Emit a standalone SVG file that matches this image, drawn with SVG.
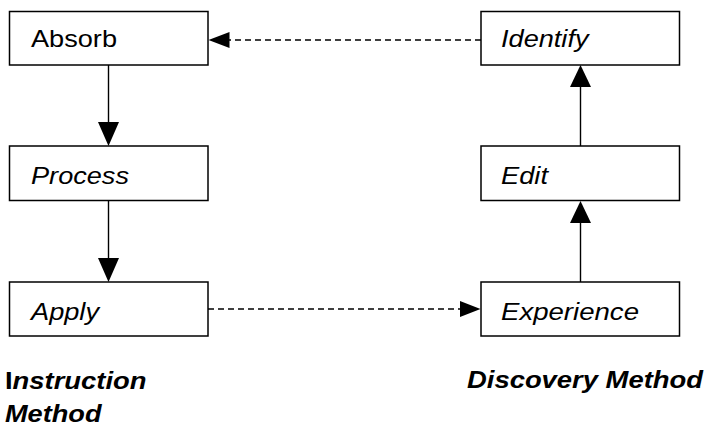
<svg xmlns="http://www.w3.org/2000/svg" width="707" height="425" viewBox="0 0 707 425">
  <style>
    .box { fill: #ffffff; stroke: #000000; stroke-width: 1.5; }
    .lbl { font-family: "Liberation Sans", Arial, sans-serif; font-size: 24px; fill: #000000; }
    .it { font-style: italic; }
    .cap { font-family: "Liberation Sans", Arial, sans-serif; font-size: 23px; font-weight: bold; font-style: italic; fill: #000000; }
    .solid { stroke: #000000; stroke-width: 1.4; fill: none; }
    .dash { stroke: #000000; stroke-width: 1.4; fill: none; stroke-dasharray: 6 4; }
    .head { fill: #000000; }
  </style>

  <!-- connectors -->
  <g id="connectors">
    <!-- Absorb -> Process -->
    <line class="solid" x1="108.5" y1="65" x2="108.5" y2="124"/>
    <polygon class="head" points="98,122 119,122 108.5,146"/>
    <!-- Process -> Apply -->
    <line class="solid" x1="108.5" y1="201" x2="108.5" y2="260"/>
    <polygon class="head" points="98,258 119,258 108.5,282"/>
    <!-- Experience -> Edit -->
    <line class="solid" x1="580.5" y1="282" x2="580.5" y2="222"/>
    <polygon class="head" points="570,223 591,223 580.5,201"/>
    <!-- Edit -> Identify -->
    <line class="solid" x1="580.5" y1="146" x2="580.5" y2="86"/>
    <polygon class="head" points="570,87 591,87 580.5,65"/>
    <!-- Identify -> Absorb (dashed) -->
    <line class="dash" x1="481" y1="40" x2="229" y2="40"/>
    <polygon class="head" points="229.5,32 229.5,48 208.5,40"/>
    <!-- Apply -> Experience (dashed) -->
    <line class="dash" x1="208" y1="309" x2="460" y2="309"/>
    <polygon class="head" points="460,301 460,317 480.5,309"/>
  </g>

  <!-- nodes -->
  <g id="absorb">
    <rect class="box" x="9.5" y="11.5" width="198.5" height="53.5"/>
    <text class="lbl" x="31" y="46.5" textLength="86" lengthAdjust="spacingAndGlyphs">Absorb</text>
  </g>
  <g id="process">
    <rect class="box" x="9.5" y="146" width="198.5" height="54.5"/>
    <text class="lbl it" x="31" y="184" textLength="98" lengthAdjust="spacingAndGlyphs">Process</text>
  </g>
  <g id="apply">
    <rect class="box" x="9.5" y="282" width="198.5" height="54"/>
    <text class="lbl it" x="31" y="319.5" textLength="68" lengthAdjust="spacingAndGlyphs">Apply</text>
  </g>
  <g id="identify">
    <rect class="box" x="481" y="11.5" width="198.5" height="53.5"/>
    <text class="lbl it" x="501" y="46.5" textLength="87.5" lengthAdjust="spacingAndGlyphs">Identify</text>
  </g>
  <g id="edit">
    <rect class="box" x="481" y="146" width="198.5" height="54.5"/>
    <text class="lbl it" x="501" y="184" textLength="47" lengthAdjust="spacingAndGlyphs">Edit</text>
  </g>
  <g id="experience">
    <rect class="box" x="481" y="282" width="198.5" height="54"/>
    <text class="lbl it" x="501" y="319.5" textLength="138" lengthAdjust="spacingAndGlyphs">Experience</text>
  </g>

  <!-- captions -->
  <g id="instruction-method">
    <text class="cap" x="5" y="389" textLength="141.5" lengthAdjust="spacingAndGlyphs"><tspan font-style="normal">I</tspan>nstruction</text>
    <text class="cap" x="5" y="421.5" textLength="96.5" lengthAdjust="spacingAndGlyphs">Method</text>
  </g>
  <g id="discovery-method">
    <text class="cap" x="467" y="388" textLength="236" lengthAdjust="spacingAndGlyphs">Discovery Method</text>
  </g>
</svg>
